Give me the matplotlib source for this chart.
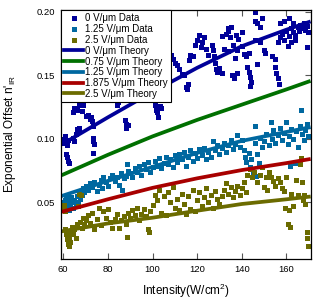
import matplotlib
matplotlib.use("Agg")
import matplotlib.pyplot as plt

plt.rcParams['font.family'] = ['Liberation Sans', 'DejaVu Sans']
plt.rcParams['mathtext.fontset'] = 'custom'
plt.rcParams['mathtext.rm'] = 'Liberation Sans'
plt.rcParams['mathtext.it'] = 'Liberation Sans:italic'

# 0 V/um data
x0 = [60.2, 60.5, 61, 61.5, 62, 61.3, 61.8, 62.2, 62.5, 64.5, 65, 65.5, 66, 66.5, 67,
      64.5, 65, 66, 67, 68, 69, 68.5, 70, 71, 72, 73, 72.5, 73.5, 73.2, 73.5, 74, 73.3,
      84, 84.5, 87.5, 88, 88.3, 89, 91, 93, 95, 97, 100, 101, 101.5, 102, 102.5, 103.5, 104,
      108.5, 109, 110, 111, 112, 113, 114, 115, 115.5, 116, 116.5, 117, 118, 119, 120, 121,
      122, 123, 121.5, 124, 126.5, 127, 127.5, 128, 128.5, 129, 130, 131, 125,
      131, 133, 134.5, 133.6, 134, 135, 137.6, 138.5, 140, 132, 134, 136, 138, 140, 141, 142,
      143, 137, 142.5, 143, 143.5, 144, 143.5, 135.5, 136.5, 138, 145.8, 146, 147, 148, 149,
      147, 150, 150.5, 148, 146,
      153.5, 155, 155, 155.5, 156, 156.5, 157, 159, 161, 163, 156, 157, 158, 159, 160, 161,
      162, 163, 164, 165, 165.5, 166, 167, 168, 168.5, 169, 169.5, 160.5, 162, 164, 169]
y0 = [0.100, 0.097, 0.102, 0.095, 0.099, 0.088, 0.086, 0.083, 0.081, 0.101, 0.098, 0.104,
      0.108, 0.106, 0.109, 0.121, 0.124, 0.123, 0.127, 0.129, 0.127, 0.122, 0.118, 0.119,
      0.116, 0.114, 0.117, 0.110, 0.101, 0.098, 0.096, 0.089,
      0.127, 0.129, 0.115, 0.112, 0.109, 0.111, 0.131, 0.133, 0.136, 0.139, 0.141, 0.127,
      0.123, 0.121, 0.117, 0.126, 0.124,
      0.166, 0.163, 0.160, 0.158, 0.155, 0.151, 0.150, 0.141, 0.139, 0.143, 0.162, 0.166,
      0.165, 0.174, 0.178, 0.182, 0.176, 0.180, 0.172, 0.171, 0.174, 0.170, 0.165, 0.160,
      0.155, 0.153, 0.156, 0.152, 0.166,
      0.181, 0.183, 0.180, 0.187, 0.185, 0.188, 0.182, 0.179, 0.184, 0.171, 0.169, 0.174,
      0.170, 0.173, 0.167, 0.165, 0.168, 0.164, 0.157, 0.153, 0.149, 0.145, 0.142, 0.150,
      0.148, 0.152, 0.200, 0.193, 0.191, 0.188, 0.195, 0.159, 0.170, 0.168, 0.176, 0.178,
      0.165, 0.163, 0.157, 0.152, 0.148, 0.143, 0.191, 0.193, 0.195, 0.191, 0.176, 0.180,
      0.183, 0.178, 0.185, 0.181, 0.187, 0.184, 0.182, 0.188, 0.185, 0.190, 0.187, 0.191,
      0.186, 0.189, 0.184, 0.173, 0.176, 0.178, 0.172]

# 1.25 V/um data
x1 = [60, 60.3, 60.6, 61, 61.3, 61.6, 62, 62.4, 62.8, 63.2, 63.6, 64, 64.5, 65, 65.5, 66,
      66.5, 67, 67.5, 68, 68.5, 69, 69.5, 70,
      71, 72, 73, 74, 75, 76, 77, 77.5, 78, 79, 80, 81, 82, 83, 84, 85, 86, 86.5, 87, 88,
      88.4, 89, 90,
      91, 92, 93, 94, 95, 96, 97, 98, 99, 100, 101, 102, 103, 104, 105, 106, 107, 108, 109, 110,
      111, 112, 113, 114, 115, 116, 117, 118, 119, 120, 121, 122, 123, 124, 125, 126, 127,
      128, 129, 130,
      131, 132, 133, 134, 135, 136, 137, 138, 139, 140, 141, 141.5, 142, 143, 143.5, 144, 145,
      145.7, 146, 146.5, 147, 147.5, 148, 149, 150,
      151, 152, 153, 153.5, 154, 155, 156, 157, 158, 159, 160, 160.5, 161, 161.5, 162, 163,
      164, 164.5, 165, 166, 166.7, 167, 168, 168.5, 169, 169.5]
y1 = [0.050, 0.047, 0.052, 0.045, 0.055, 0.049, 0.053, 0.044, 0.051, 0.047, 0.054, 0.050,
      0.046, 0.052, 0.048, 0.055, 0.050, 0.057, 0.053, 0.059, 0.056, 0.061, 0.058, 0.063,
      0.060, 0.065, 0.062, 0.066, 0.059, 0.064, 0.068, 0.061, 0.070, 0.066, 0.063, 0.069,
      0.072, 0.067, 0.070, 0.064, 0.073, 0.060, 0.069, 0.071, 0.080, 0.075, 0.073,
      0.070, 0.077, 0.074, 0.079, 0.072, 0.080, 0.076, 0.082, 0.074, 0.078, 0.083, 0.079,
      0.085, 0.077, 0.081, 0.086, 0.080, 0.084, 0.078, 0.087,
      0.082, 0.088, 0.084, 0.090, 0.079, 0.086, 0.091, 0.083, 0.089, 0.085, 0.092, 0.087,
      0.093, 0.084, 0.090, 0.086, 0.098, 0.091, 0.095, 0.088,
      0.093, 0.097, 0.090, 0.095, 0.099, 0.092, 0.096, 0.103, 0.094, 0.099, 0.091, 0.086,
      0.082, 0.089, 0.078, 0.084, 0.074, 0.110, 0.097, 0.071, 0.088, 0.081, 0.101, 0.094, 0.098,
      0.104, 0.095, 0.1135, 0.100, 0.107, 0.097, 0.103, 0.109, 0.099, 0.105, 0.113, 0.096,
      0.102, 0.079, 0.108, 0.100, 0.081, 0.106, 0.094, 0.110, 0.123, 0.104, 0.099, 0.107,
      0.112, 0.102]

# 2.5 V/um data
x2 = [60.2, 60.5, 61, 60.8, 61.2, 61.6, 62, 62.4, 62.8, 63.2, 63.6, 64, 64.5, 65, 65.5, 66,
      66.5, 67, 67.5, 68, 68.5, 69, 69.5, 70,
      71, 72, 73, 74, 75, 76, 77, 78, 79, 80, 81, 82, 83, 84, 85, 86, 87, 88, 88.5, 89, 90,
      91, 92, 93, 94, 95, 96, 97, 98, 98.5, 99, 100, 101, 102, 103, 104, 105, 106, 107, 108,
      109, 110,
      111, 112, 113, 114, 115, 116, 117, 118, 119, 120, 121, 122, 123, 124, 125, 126, 127,
      128, 129, 130,
      131, 132, 133, 134, 135, 136, 137, 138, 139, 140, 141, 142, 142.5, 143.5, 144.5, 145.6,
      147, 148, 149, 150, 151, 151.5,
      152, 153, 154, 155, 156, 157, 158, 159, 159.5, 160, 160.5, 161, 161.5, 162, 163, 164.5,
      165, 166, 166.7, 167, 167.5, 168, 168.5, 169, 169.3, 169.5]
y2 = [0.048, 0.045, 0.043, 0.029, 0.025, 0.021, 0.017, 0.0155, 0.023, 0.019, 0.027, 0.031,
      0.025, 0.029, 0.022, 0.033, 0.047, 0.057, 0.035, 0.056, 0.030, 0.038, 0.033, 0.036,
      0.040, 0.034, 0.042, 0.029, 0.037, 0.046, 0.032, 0.043, 0.038, 0.045, 0.035, 0.030,
      0.037, 0.041, 0.030, 0.036, 0.039, 0.033, 0.023, 0.042, 0.038,
      0.044, 0.040, 0.046, 0.036, 0.041, 0.045, 0.039, 0.029, 0.027, 0.043, 0.048, 0.056,
      0.052, 0.060, 0.042, 0.055, 0.040, 0.058, 0.050, 0.062, 0.046,
      0.053, 0.044, 0.057, 0.049, 0.041, 0.055, 0.045, 0.060, 0.043, 0.052, 0.058, 0.047,
      0.054, 0.061, 0.050, 0.056, 0.046, 0.059, 0.053, 0.049,
      0.055, 0.060, 0.065, 0.057, 0.062, 0.054, 0.059, 0.063, 0.056, 0.061, 0.066, 0.058,
      0.072, 0.076, 0.070, 0.074, 0.066, 0.072, 0.078, 0.062, 0.070, 0.060,
      0.074, 0.070, 0.067, 0.063, 0.069, 0.066, 0.061, 0.059, 0.046, 0.070, 0.033, 0.044,
      0.031, 0.057, 0.047, 0.068, 0.056, 0.080, 0.085, 0.066, 0.052, 0.056, 0.049, 0.027,
      0.022, 0.016]

# theory curves
x_th = [60, 80, 100, 120, 140, 160, 170]
th_0 = [0.0963, 0.117, 0.137, 0.156, 0.173, 0.186, 0.192]
th_075 = [0.072, 0.0875, 0.102, 0.115, 0.127, 0.139, 0.1452]
th_125 = [0.0555, 0.067, 0.078, 0.089, 0.0985, 0.1055, 0.109]
th_1875 = [0.043, 0.0525, 0.0615, 0.069, 0.0755, 0.081, 0.084]
th_25 = [0.0275, 0.0335, 0.038, 0.0435, 0.0488, 0.0525, 0.0545]

navy = '#000099'
teal = '#0068a0'
olive = '#6b6b00'
green = '#007000'
red = '#a80000'

fig = plt.figure(figsize=(3.31, 3.03), dpi=100)
ax = fig.add_axes([0.1843, 0.1452, 0.7553, 0.8218])

ms = 3.6
ax.plot(x0, y0, ls='none', marker='s', ms=ms, mew=0, color=navy, label='0 V/\u03bcm Data')
ax.plot(x1, y1, ls='none', marker='s', ms=ms, mew=0, color=teal, label='1.25 V/\u03bcm Data')
ax.plot(x2, y2, ls='none', marker='s', ms=ms, mew=0, color=olive, label='2.5 V/\u03bcm Data')

lw = 2.7
ax.plot(x_th, th_0, color=navy, lw=lw, label='0 V/\u03bcm Theory')
ax.plot(x_th, th_075, color=green, lw=lw, label='0.75 V/\u03bcm Theory')
ax.plot(x_th, th_125, color=teal, lw=lw, label='1.25 V/\u03bcm Theory')
ax.plot(x_th, th_1875, color=red, lw=lw, label='1.875 V/\u03bcm Theory')
ax.plot(x_th, th_25, color=olive, lw=lw, label='2.5 V/\u03bcm Theory')

ax.set_xlim(59, 171)
ax.set_ylim(0.0055, 0.2015)
ax.set_xticks([60, 80, 100, 120, 140, 160])
ax.set_yticks([0.05, 0.10, 0.15, 0.20])
ax.set_yticklabels(['0.05', '0.10', '0.15', '0.20'])
ax.tick_params(direction='in', top=True, right=True, length=4, width=0.8,
               labelsize=6.8, pad=4, color='#555555')
for sp in ax.spines.values():
    sp.set_linewidth(0.9)

ax.set_xlabel('Intensity(W/cm$^2$)', fontsize=8.5, labelpad=6)
ax.set_ylabel("Exponential Offset n'$_{\\mathrm{IR}}$", fontsize=8.5, labelpad=14)

leg = ax.legend(loc='upper left', fontsize=7.0, frameon=True, fancybox=False,
                edgecolor='black', framealpha=1, borderaxespad=0, labelspacing=0.08,
                handlelength=1.9, handletextpad=0.25, borderpad=0.35, numpoints=1)
leg.get_frame().set_linewidth(0.8)

fig.savefig('out.png', dpi=100)
